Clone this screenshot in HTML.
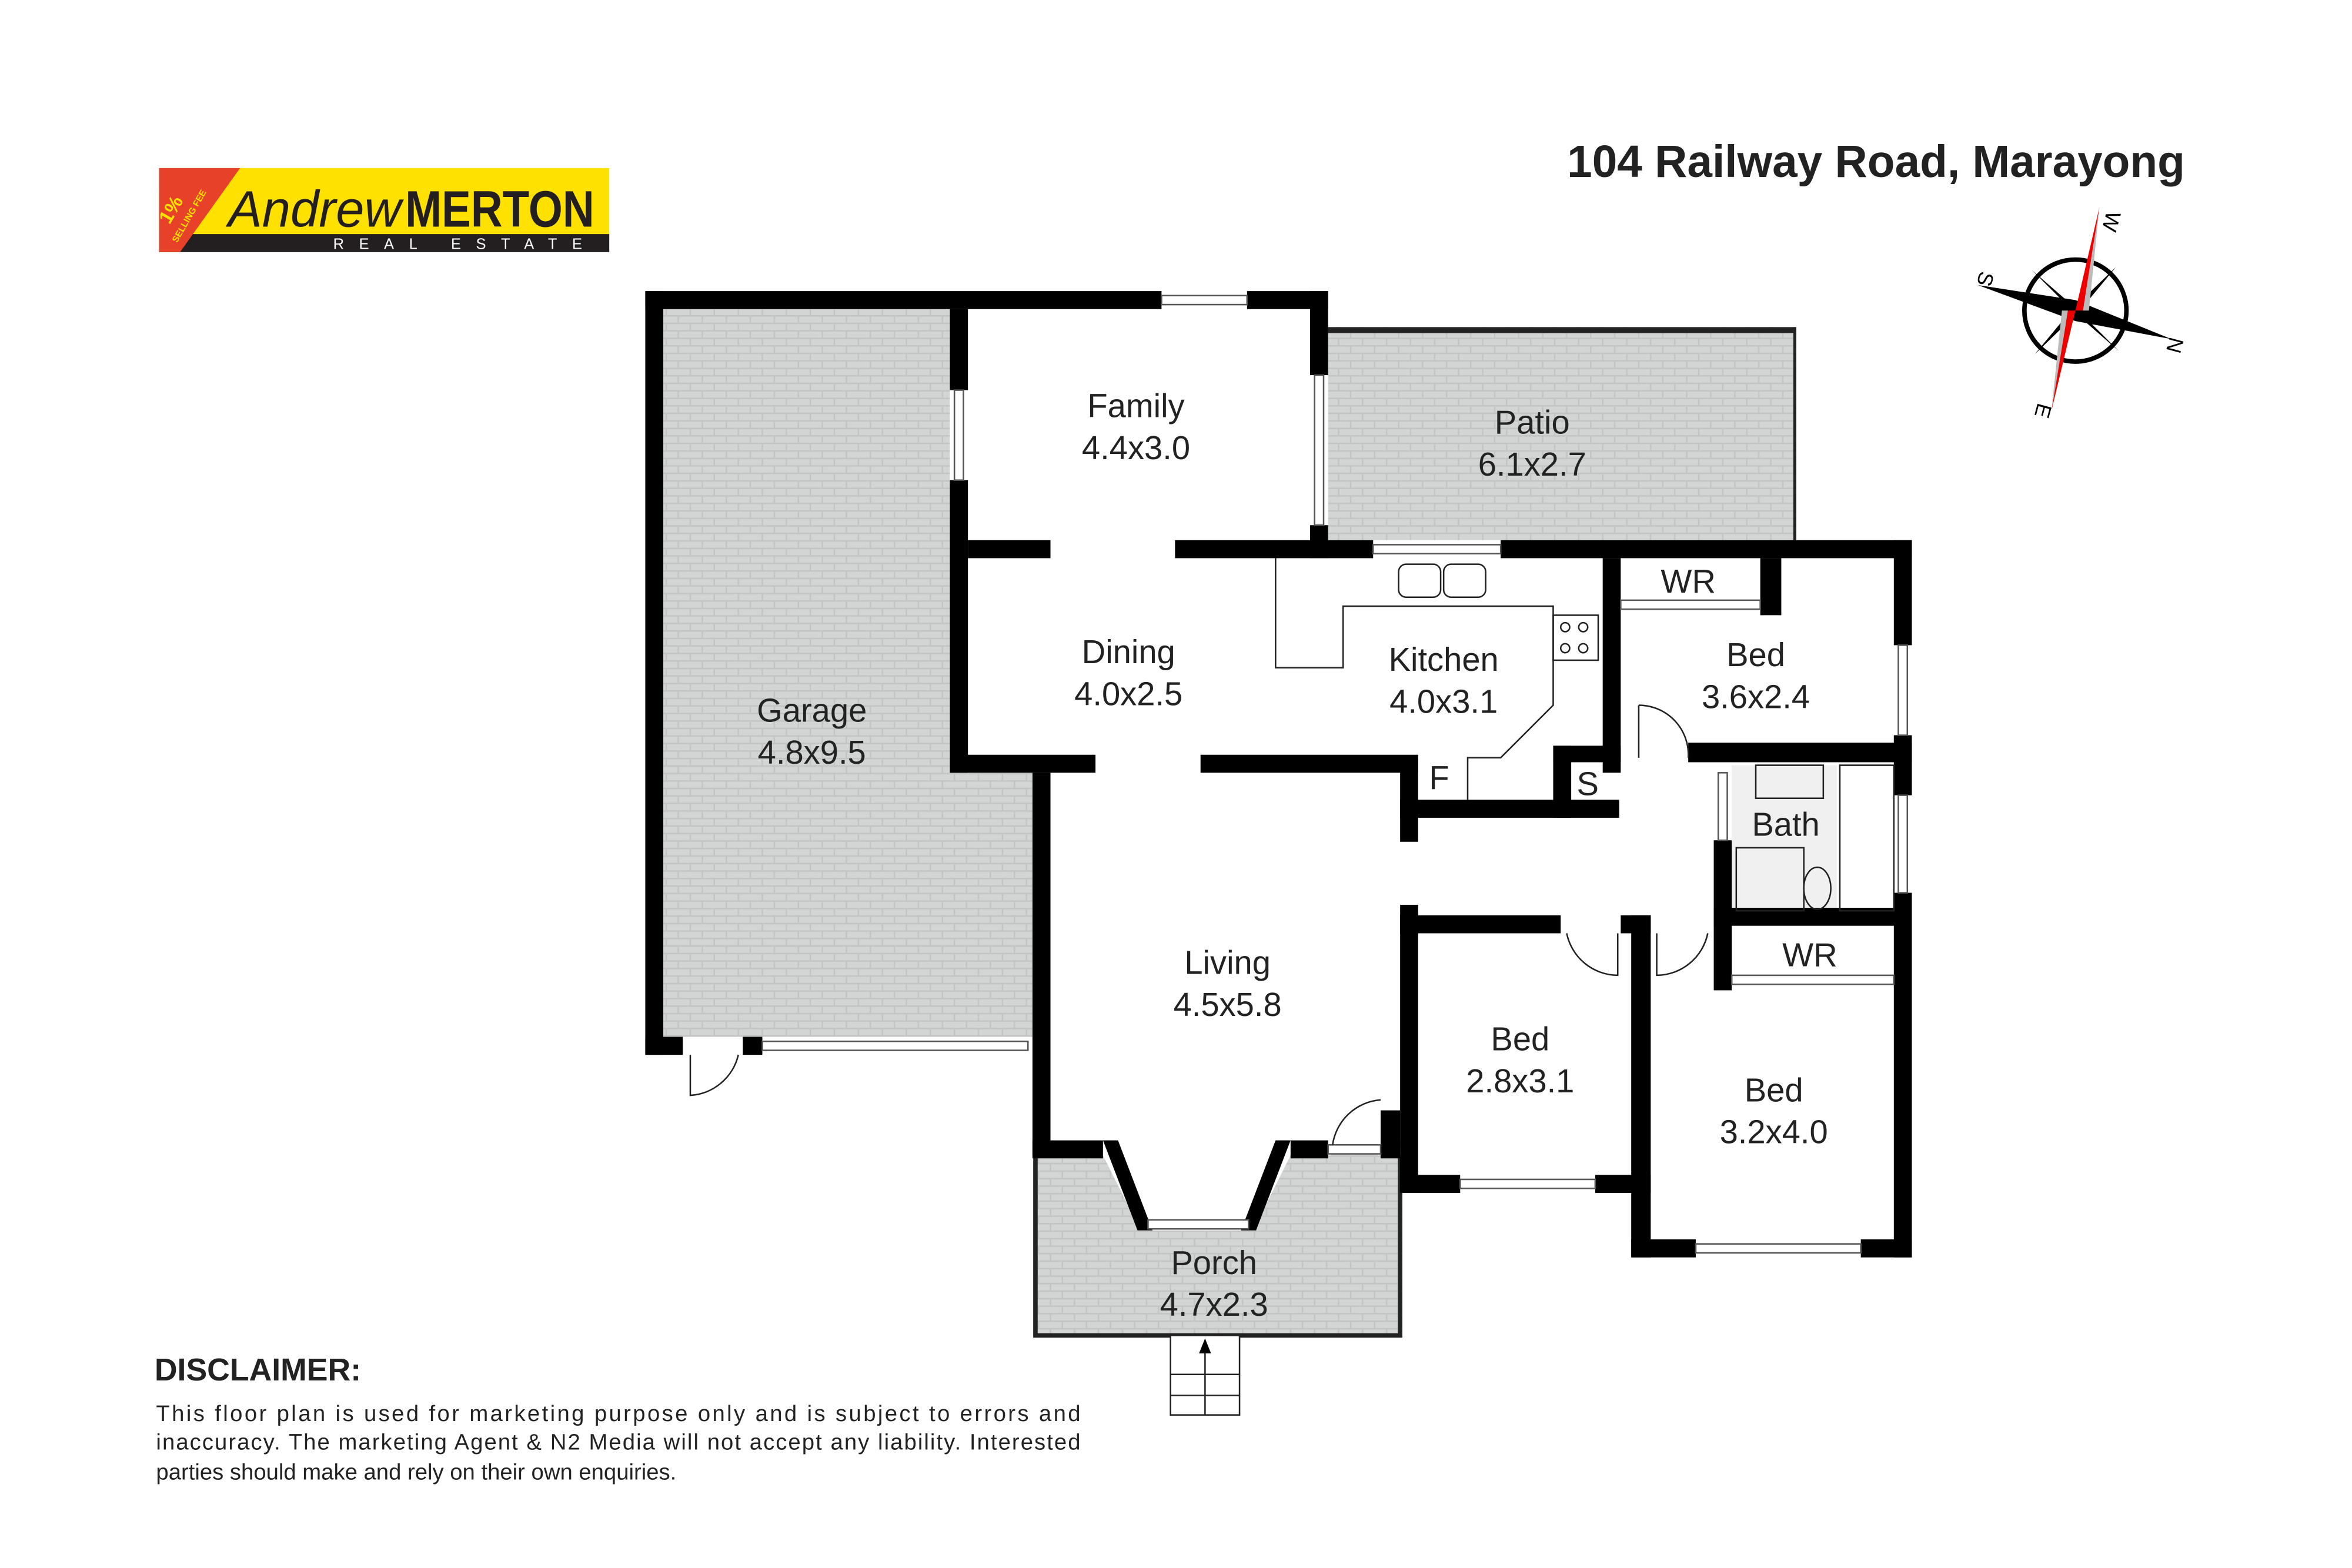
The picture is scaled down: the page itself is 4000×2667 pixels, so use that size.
<!DOCTYPE html>
<html><head><meta charset="utf-8"><style>
html,body{margin:0;padding:0;background:#fff}
svg{display:block}
text{font-family:"Liberation Sans",sans-serif}
</style></head><body>
<svg width="4000" height="2667" viewBox="0 0 1567 1045" preserveAspectRatio="xMinYMin meet" xmlns="http://www.w3.org/2000/svg">
<defs>
<pattern id="brk" width="16" height="10" patternUnits="userSpaceOnUse">
<rect width="16" height="10" fill="#d3d5d4"/>
<path d="M0 0.5H16M0 5.5H16M4 0V5M12 5V10" stroke="#c3c5c4" stroke-width="1"/>
</pattern>
</defs>
<rect width="1567" height="1045" fill="#fff"/>

<!-- Logo -->
<rect x="106" y="112" width="300" height="46" fill="#ffe100"/>
<rect x="106" y="156" width="300" height="12" fill="#231f20"/>
<polygon points="106,112 160,112 120,168 106,168" fill="#e8412a"/>
<text x="113" y="150" font-size="13" fill="#ffe100" font-weight="bold" transform="rotate(-60 113 150)">1%</text>
<text x="118" y="162" font-size="6" fill="#ffe100" font-weight="bold" transform="rotate(-60 118 162)">SELLING FEE</text>
<text x="152" y="151" font-size="34" font-family="Liberation Serif" font-style="italic" fill="#231f20">Andrew</text>
<text x="270" y="151" font-size="34" font-family="Liberation Serif" font-weight="bold" fill="#231f20" textLength="126" lengthAdjust="spacingAndGlyphs">MERTON</text>
<text x="222" y="166" font-size="10" fill="#fff" letter-spacing="10">REAL ESTATE</text>

<!-- Title -->
<text x="1456" y="118" font-size="30" font-weight="bold" fill="#222" text-anchor="end">104 Railway Road, Marayong</text>

<!-- Compass -->
<g>
<circle cx="1383" cy="207" r="34" fill="none" stroke="#000" stroke-width="3"/>
<polygon points="1318,190 1383,200 1447,226 1383,214" fill="#000"/>
<polygon points="1354,180 1385,207 1412,234 1381,207" fill="#000"/>
<polygon points="1410,178 1386,207 1356,236 1380,207" fill="#000"/>
<polygon points="1399,138 1388,207 1383,207" fill="#e00"/>
<polygon points="1399,138 1388,207 1392,207" fill="#bbb"/>
<polygon points="1367,274 1378,207 1383,207" fill="#e00"/>
<polygon points="1367,274 1378,207 1374,207" fill="#bbb"/>
<text x="1404" y="140" font-size="14" font-family="Liberation Serif" transform="rotate(105 1404 140)">W</text>
<text x="1312" y="186" font-size="14" font-family="Liberation Serif" transform="rotate(105 1318 186)">S</text>
<text x="1446" y="224" font-size="14" font-family="Liberation Serif" transform="rotate(105 1446 224)">N</text>
<text x="1358" y="268" font-size="14" font-family="Liberation Serif" transform="rotate(105 1358 268)">E</text>
</g>

<!-- Floors -->
<rect x="442" y="206" width="191" height="485" fill="url(#brk)"/>
<rect x="633" y="515" width="55" height="176" fill="url(#brk)"/>
<rect x="885" y="218" width="310" height="142" fill="url(#brk)"/>
<rect x="1195" y="218" width="2" height="142" fill="#222"/>
<rect x="885" y="218" width="312" height="4" fill="#222"/>
<polygon points="690,770 735,770 760,820 835,820 860,770 933,770 933,890 690,890" fill="url(#brk)"/>
<path d="M690 770V890H933V770" fill="none" stroke="#222" stroke-width="3"/>
<rect x="1154" y="510" width="70" height="97" fill="#f0f0f0"/>

<!-- Walls -->
<g fill="#000">
<rect x="430" y="194" width="12" height="509"/>
<rect x="430" y="194" width="344" height="12"/>
<rect x="831" y="194" width="54" height="12"/>
<rect x="873" y="194" width="12" height="56"/>
<rect x="873" y="350" width="12" height="22"/>
<rect x="633" y="206" width="12" height="54"/>
<rect x="633" y="320" width="12" height="195"/>
<rect x="633" y="503" width="97" height="12"/>
<rect x="688" y="515" width="12" height="255"/>
<rect x="430" y="691" width="25" height="12"/>
<rect x="495" y="691" width="13" height="12"/>
<rect x="645" y="360" width="55" height="12"/>
<rect x="783" y="360" width="132" height="12"/>
<rect x="1000" y="360" width="274" height="12"/>
<rect x="1262" y="360" width="12" height="70"/>
<rect x="1262" y="490" width="12" height="40"/>
<rect x="1262" y="595" width="12" height="243"/>
<rect x="1068" y="372" width="12" height="133"/>
<rect x="1173" y="372" width="14" height="38"/>
<rect x="1125" y="495" width="149" height="13"/>
<rect x="1035" y="497" width="45" height="11"/>
<rect x="1035" y="497" width="12" height="48"/>
<rect x="1068" y="505" width="12" height="10"/>
<rect x="933" y="533" width="146" height="12"/>
<rect x="933" y="505" width="12" height="56"/>
<rect x="800" y="503" width="145" height="12"/>
<rect x="1142" y="560" width="12" height="100"/>
<rect x="1142" y="605" width="130" height="12"/>
<rect x="933" y="603" width="12" height="192"/>
<rect x="933" y="610" width="107" height="12"/>
<rect x="1080" y="610" width="20" height="12"/>
<rect x="1087" y="610" width="13" height="228"/>
<rect x="933" y="783" width="40" height="12"/>
<rect x="1063" y="783" width="37" height="12"/>
<rect x="1087" y="826" width="43" height="12"/>
<rect x="1240" y="826" width="34" height="12"/>
<rect x="688" y="760" width="47" height="12"/>
<rect x="860" y="760" width="25" height="12"/>
<rect x="920" y="760" width="13" height="12"/>
<rect x="920" y="740" width="13" height="25"/>
<polygon points="735,760 745,760 768,820 758,820"/>
<polygon points="860,760 850,760 827,820 837,820"/>
</g>
<!-- windows -->
<g fill="#fff" stroke="#555" stroke-width="1">
<rect x="774" y="197" width="57" height="6"/>
<rect x="636" y="260" width="6" height="60"/>
<rect x="876" y="250" width="6" height="100"/>
<rect x="915" y="363" width="85" height="6"/>
<rect x="1265" y="430" width="6" height="60"/>
<rect x="1265" y="530" width="6" height="65"/>
<rect x="1080" y="400" width="93" height="6"/>
<rect x="1154" y="650" width="108" height="6"/>
<rect x="508" y="694" width="177" height="6"/>
<rect x="973" y="786" width="90" height="6"/>
<rect x="1130" y="829" width="110" height="6"/>
<rect x="765" y="813" width="67" height="6"/>
<rect x="885" y="763" width="35" height="6"/>
<rect x="1145" y="515" width="6" height="45"/>
</g>
<!-- doors -->
<g fill="none" stroke="#222" stroke-width="1">
<path d="M460 703V730A35 35 0 0 0 492 703"/>
<path d="M920 733A35 35 0 0 0 888 763"/>
<path d="M1092 470V505M1092 470A33 33 0 0 1 1125 505"/>
<path d="M1078 622V650A35 35 0 0 1 1044 622"/>
<path d="M1104 622V650A35 35 0 0 0 1138 622"/>
<path d="M850 372V445H895V404H1035V470L1000 505H978V533"/>
<rect x="1035" y="410" width="30" height="30"/>
<circle cx="1043" cy="418" r="3"/><circle cx="1055" cy="418" r="3"/>
<circle cx="1043" cy="432" r="3"/><circle cx="1055" cy="432" r="3"/>
<rect x="932" y="376" width="28" height="22" rx="5"/><rect x="962" y="376" width="28" height="22" rx="5"/>
<rect x="1170" y="510" width="45" height="22"/>
<rect x="1157" y="565" width="45" height="42"/>
<ellipse cx="1211" cy="592" rx="9" ry="14"/>
<rect x="1226" y="510" width="36" height="97"/>
<rect x="780" y="890" width="46" height="53" fill="#fff"/>
<path d="M803 900V943M780 916H826M780 930H826"/>
</g>
<polygon points="803,892 799,902 807,902" fill="#000"/>

<!-- Labels -->
<g font-size="22" fill="#222" text-anchor="middle">
<text x="757" y="278">Family</text><text x="757" y="306">4.4x3.0</text>
<text x="1021" y="289">Patio</text><text x="1021" y="317">6.1x2.7</text>
<text x="752" y="442">Dining</text><text x="752" y="470">4.0x2.5</text>
<text x="962" y="447">Kitchen</text><text x="962" y="475">4.0x3.1</text>
<text x="541" y="481">Garage</text><text x="541" y="509">4.8x9.5</text>
<text x="1125" y="395">WR</text>
<text x="1170" y="444">Bed</text><text x="1170" y="472">3.6x2.4</text>
<text x="959" y="526">F</text><text x="1058" y="530">S</text>
<text x="1190" y="557">Bath</text>
<text x="1206" y="644">WR</text>
<text x="818" y="649">Living</text><text x="818" y="677">4.5x5.8</text>
<text x="1013" y="700">Bed</text><text x="1013" y="728">2.8x3.1</text>
<text x="1182" y="734">Bed</text><text x="1182" y="762">3.2x4.0</text>
<text x="809" y="849">Porch</text><text x="809" y="877">4.7x2.3</text>
</g>

<!-- Disclaimer -->
<text x="103" y="920" font-size="21" font-weight="bold" fill="#222">DISCLAIMER:</text>
<g font-size="15" fill="#222">
<text x="104" y="947" textLength="616" lengthAdjust="spacing">This floor plan is used for marketing purpose only and is subject to errors and</text>
<text x="104" y="966" textLength="616" lengthAdjust="spacing">inaccuracy. The marketing Agent &amp; N2 Media will not accept any liability. Interested</text>
<text x="104" y="986">parties should make and rely on their own enquiries.</text>
</g>
</svg>
</body></html>
